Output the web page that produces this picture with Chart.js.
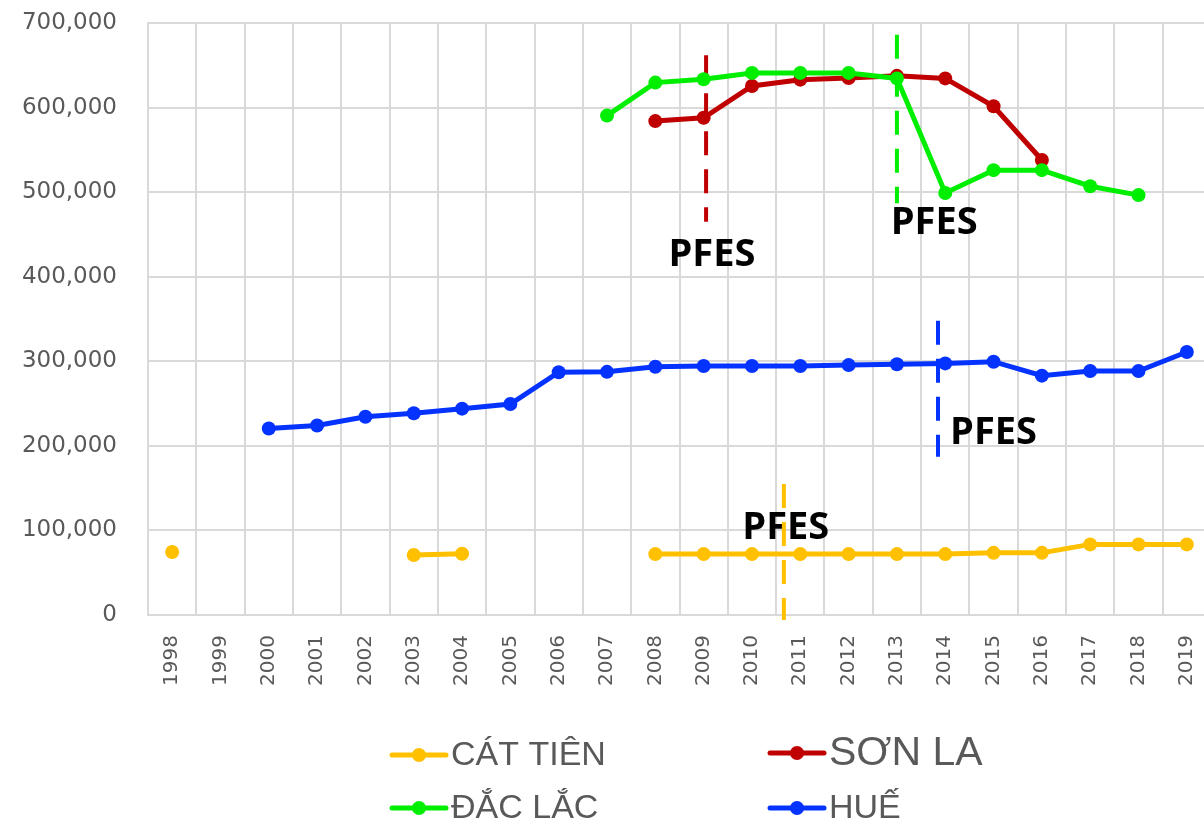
<!DOCTYPE html>
<html>
<head>
<meta charset="utf-8">
<script src="https://cdn.jsdelivr.net/npm/chart.js"></script>
<style>
  html, body { margin: 0; padding: 0; background: #fff; overflow: hidden; }
  #chart { display: block; }
</style>
</head>
<body>
<canvas id="chart" width="1204" height="827" style="width:1204px;height:827px"></canvas>
<script>
const years = ['1998', '1999', '2000', '2001', '2002', '2003', '2004', '2005', '2006', '2007', '2008',
  '2009', '2010', '2011', '2012', '2013', '2014', '2015', '2016', '2017', '2018', '2019'];

const catTien = [74500, null, null, null, null, 71000, 72500, null, null, null, 72000,
  72000, 72000, 72000, 72000, 72000, 72000, 73500, 73500, 83500, 83500, 83500];
const sonLa = [null, null, null, null, null, null, null, null, null, null, 584000,
  588000, 625500, 633000, 635000, 637500, 634500, 601500, 538000, null, null, null];
const dacLac = [null, null, null, null, null, null, null, null, null, 590500, 629500,
  633500, 641000, 641000, 641000, 634500, 499000, 526000, 526000, 507000, 496500, null];
const hue = [null, null, 220500, 224000, 234500, 238500, 244000, 249500, 287000, 287500, 293500,
  294500, 294500, 294500, 295500, 296500, 297500, 299500, 283000, 288500, 288500, 311000];

const yTicks = [0, 100000, 200000, 300000, 400000, 500000, 600000, 700000];

// PFES markers: year where the scheme starts, dashed line span, label spot
const pfesYear = [2009.05, 2013, 2013.85, 2010.66];
const pfesTop = [662000, 686000, 348000, 155000];
const pfesBottom = [465000, 487000, 187000, -6000];
const pfesLabelYear = [2009.17, 2013.77, 2015.0, 2010.7];
const pfesLabelValue = [425500, 463500, 215000, 103000];
const pfesColor = ['#c00000', '#00ee00', '#0433ff', '#ffc000'];

const colors = { catTien: '#ffc000', sonLa: '#c00000', dacLac: '#00ee00', hue: '#0433ff' };

// the plot in the original runs a few px past the right edge of the picture
const plotRight = 1211;

function series(label, data, color) {
  return {
    label,
    data,
    borderColor: color,
    backgroundColor: color,
    borderWidth: 5,
    pointRadius: 7,
    pointHoverRadius: 7,
    pointBorderWidth: 0,
    spanGaps: false,
    tension: 0,
  };
}

const stretchPlugin = {
  id: 'stretch',
  afterLayout(chart) {
    const x = chart.scales.x;
    x.right = plotRight;
    x.width = x.right - x.left;
    chart.chartArea.right = plotRight;
    chart.chartArea.width = plotRight - chart.chartArea.left;
    x.configure();
  },
};

const pfesPlugin = {
  id: 'pfes',
  beforeDatasetsDraw(chart) {
    const { ctx } = chart;
    const x = chart.scales.x;
    const y = chart.scales.y;
    ctx.save();
    ctx.font = 'bold 38px "Open Sans"';
    ctx.fillStyle = '#000';
    ctx.textAlign = 'center';
    ctx.textBaseline = 'middle';
    pfesYear.forEach((yr, i) => {
      ctx.fillText('PFES', x.getPixelForValue(pfesLabelYear[i] - 1998), y.getPixelForValue(pfesLabelValue[i]));
    });
    ctx.lineWidth = 4;
    ctx.setLineDash([24, 14]);
    pfesYear.forEach((yr, i) => {
      const px = x.getPixelForValue(yr - 1998);
      ctx.strokeStyle = pfesColor[i];
      ctx.beginPath();
      ctx.moveTo(px, y.getPixelForValue(pfesTop[i]));
      ctx.lineTo(px, y.getPixelForValue(pfesBottom[i]));
      ctx.stroke();
    });
    ctx.restore();
  },
};

const legendItems = [
  { text: 'CÁT TIÊN', color: colors.catTien, x: 392, y: 755, size: 34 },
  { text: 'SƠN LA', color: colors.sonLa, x: 770, y: 753, size: 41 },
  { text: 'ĐẮC LẮC', color: colors.dacLac, x: 392, y: 808, size: 34 },
  { text: 'HUẾ', color: colors.hue, x: 770, y: 808, size: 34 },
];

const legendPlugin = {
  id: 'customLegend',
  afterDraw(chart) {
    const { ctx } = chart;
    ctx.save();
    legendItems.forEach((item) => {
      ctx.strokeStyle = item.color;
      ctx.fillStyle = item.color;
      ctx.lineWidth = 5;
      ctx.lineCap = 'round';
      ctx.beginPath();
      ctx.moveTo(item.x, item.y);
      ctx.lineTo(item.x + 54, item.y);
      ctx.stroke();
      ctx.beginPath();
      ctx.arc(item.x + 27, item.y, 7, 0, Math.PI * 2);
      ctx.fill();
      ctx.fillStyle = '#595959';
      ctx.font = `${item.size}px "Liberation Sans"`;
      ctx.textBaseline = 'middle';
      ctx.textAlign = 'left';
      ctx.fillText(item.text, item.x + 59, item.y + 1);
    });
    ctx.restore();
  },
};

new Chart(document.getElementById('chart'), {
  type: 'line',
  data: {
    labels: years,
    datasets: [
      series('CÁT TIÊN', catTien, colors.catTien),
      series('ĐẮC LẮC', dacLac, colors.dacLac),
      series('SƠN LA', sonLa, colors.sonLa),
      series('HUẾ', hue, colors.hue),
    ],
  },
  options: {
    responsive: false,
    animation: false,
    layout: { padding: { top: 23, right: 0, bottom: 0, left: 0 } },
    plugins: {
      legend: { display: false },
      tooltip: { enabled: false },
    },
    scales: {
      x: {
        type: 'category',
        offset: true,
        grid: {
          offset: true,
          color: '#d9d9d9',
          lineWidth: 2,
          drawTicks: false,
        },
        border: { color: '#d9d9d9', width: 2 },
        ticks: {
          minRotation: 90,
          maxRotation: 90,
          autoSkip: false,
          padding: 20,
          color: '#595959',
          font: { family: 'DejaVu Sans', size: 20 },
        },
        afterFit(scale) {
          scale.height = 212;
        },
      },
      y: {
        min: 0,
        max: 700000,
        afterBuildTicks(scale) {
          scale.ticks = yTicks.map((v) => ({ value: v }));
        },
        grid: { color: '#d9d9d9', lineWidth: 2, drawTicks: false },
        border: { color: '#d9d9d9', width: 2 },
        ticks: {
          padding: 31,
          color: '#595959',
          font: { family: 'DejaVu Sans', size: 23 },
          callback: (v) => v.toLocaleString('en-US'),
        },
        afterFit(scale) {
          scale.width = 148;
          scale.paddingTop = 0;
          scale.paddingBottom = 0;
        },
      },
    },
  },
  plugins: [stretchPlugin, pfesPlugin, legendPlugin],
});
</script>
</body>
</html>
